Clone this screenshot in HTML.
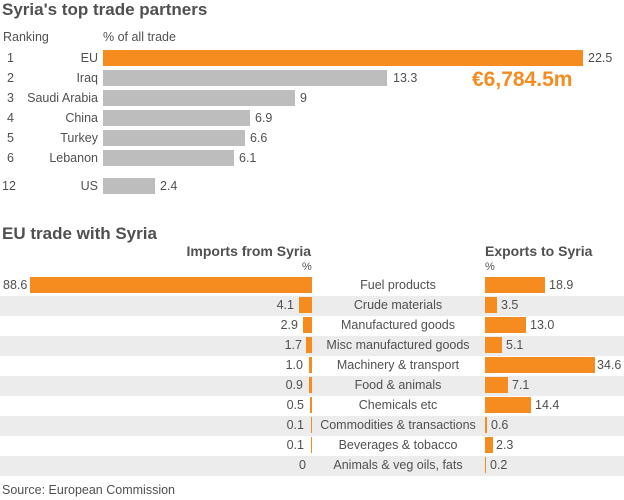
<!DOCTYPE html>
<html><head><meta charset="utf-8"><style>
body{margin:0;width:624px;height:500px;background:#fff;position:relative;overflow:hidden;font-family:"Liberation Sans",Arial,sans-serif;color:#505050;}
div{position:absolute;white-space:nowrap;}
.t{font-size:12.5px;line-height:16px;}
.b{background:#bdbdbd;height:16px;}
.o{background:#f68b1f;}
.h{font-weight:bold;}
.s{background:#ececec;left:0;width:624px;height:20px;}
</style></head><body>
<div class="h" style="left:2px;top:0px;font-size:17px;line-height:20px">Syria's top trade partners</div>
<div class="t" style="left:3px;top:29px">Ranking</div>
<div class="t" style="left:103px;top:29px">% of all trade</div>

<div class="t" style="left:7px;top:50px">1</div><div class="t" style="right:526px;top:50px">EU</div><div class="b o" style="left:103px;top:50px;width:480px"></div><div class="t" style="left:588px;top:50px">22.5</div>
<div class="t" style="left:7px;top:70px">2</div><div class="t" style="right:526px;top:70px">Iraq</div><div class="b" style="left:103px;top:70px;width:284px"></div><div class="t" style="left:393px;top:70px">13.3</div>
<div class="t" style="left:7px;top:90px">3</div><div class="t" style="right:526px;top:90px">Saudi Arabia</div><div class="b" style="left:103px;top:90px;width:192px"></div><div class="t" style="left:300px;top:90px">9</div>
<div class="t" style="left:7px;top:110px">4</div><div class="t" style="right:526px;top:110px">China</div><div class="b" style="left:103px;top:110px;width:147px"></div><div class="t" style="left:255px;top:110px">6.9</div>
<div class="t" style="left:7px;top:130px">5</div><div class="t" style="right:526px;top:130px">Turkey</div><div class="b" style="left:103px;top:130px;width:142px"></div><div class="t" style="left:250px;top:130px">6.6</div>
<div class="t" style="left:7px;top:150px">6</div><div class="t" style="right:526px;top:150px">Lebanon</div><div class="b" style="left:103px;top:150px;width:131px"></div><div class="t" style="left:239px;top:150px">6.1</div>
<div class="t" style="left:2px;top:178px">12</div><div class="t" style="right:526px;top:178px">US</div><div class="b" style="left:103px;top:178px;width:52px"></div><div class="t" style="left:160px;top:178px">2.4</div>
<div class="h" style="left:472px;top:68px;font-size:21px;line-height:24px;color:#f68b1f">€6,784.5m</div>

<div class="h" style="left:2px;top:224px;font-size:17px;line-height:20px">EU trade with Syria</div>
<div class="h" style="right:313px;top:242px;font-size:14px;line-height:18px">Imports from Syria</div>
<div class="h" style="left:485px;top:242px;font-size:14px;line-height:18px">Exports to Syria</div>
<div class="t" style="left:302px;top:259px;font-size:11px">%</div>
<div class="t" style="left:485px;top:259px;font-size:11px">%</div>

<div class="s" style="top:296px"></div><div class="s" style="top:336px"></div><div class="s" style="top:376px"></div><div class="s" style="top:416px"></div><div class="s" style="top:456px"></div>

<div class="t" style="left:3px;top:277px">88.6</div><div class="b o" style="left:30px;top:277px;width:282px"></div><div class="t" style="left:298px;width:200px;text-align:center;top:277px">Fuel products</div><div class="b o" style="left:485px;top:277px;width:60px"></div><div class="t" style="left:549px;top:277px">18.9</div>
<div class="t" style="right:330px;top:297px">4.1</div><div class="b o" style="left:299px;top:297px;width:13px"></div><div class="t" style="left:298px;width:200px;text-align:center;top:297px">Crude materials</div><div class="b o" style="left:485px;top:297px;width:12px"></div><div class="t" style="left:501px;top:297px">3.5</div>
<div class="t" style="right:326px;top:317px">2.9</div><div class="b o" style="left:303px;top:317px;width:9px"></div><div class="t" style="left:298px;width:200px;text-align:center;top:317px">Manufactured goods</div><div class="b o" style="left:485px;top:317px;width:41px"></div><div class="t" style="left:530px;top:317px">13.0</div>
<div class="t" style="right:322px;top:337px">1.7</div><div class="b o" style="left:306px;top:337px;width:6px"></div><div class="t" style="left:298px;width:200px;text-align:center;top:337px">Misc manufactured goods</div><div class="b o" style="left:485px;top:337px;width:17px"></div><div class="t" style="left:506px;top:337px">5.1</div>
<div class="t" style="right:321px;top:357px">1.0</div><div class="b o" style="left:309px;top:357px;width:3px"></div><div class="t" style="left:298px;width:200px;text-align:center;top:357px">Machinery &amp; transport</div><div class="b o" style="left:485px;top:357px;width:110px"></div><div class="t" style="left:597px;top:357px">34.6</div>
<div class="t" style="right:321px;top:377px">0.9</div><div class="b o" style="left:309px;top:377px;width:3px"></div><div class="t" style="left:298px;width:200px;text-align:center;top:377px">Food &amp; animals</div><div class="b o" style="left:485px;top:377px;width:23px"></div><div class="t" style="left:512px;top:377px">7.1</div>
<div class="t" style="right:320px;top:397px">0.5</div><div class="b o" style="left:310px;top:397px;width:2px"></div><div class="t" style="left:298px;width:200px;text-align:center;top:397px">Chemicals etc</div><div class="b o" style="left:485px;top:397px;width:46px"></div><div class="t" style="left:535px;top:397px">14.4</div>
<div class="t" style="right:320px;top:417px">0.1</div><div class="b o" style="left:311px;top:417px;width:1px"></div><div class="t" style="left:298px;width:200px;text-align:center;top:417px">Commodities &amp; transactions</div><div class="b o" style="left:485px;top:417px;width:2px"></div><div class="t" style="left:491px;top:417px">0.6</div>
<div class="t" style="right:320px;top:437px">0.1</div><div class="b o" style="left:311px;top:437px;width:1px"></div><div class="t" style="left:298px;width:200px;text-align:center;top:437px">Beverages &amp; tobacco</div><div class="b o" style="left:485px;top:437px;width:8px"></div><div class="t" style="left:496px;top:437px">2.3</div>
<div class="t" style="right:318px;top:457px">0</div><div class="t" style="left:298px;width:200px;text-align:center;top:457px">Animals &amp; veg oils, fats</div><div class="b o" style="left:485px;top:457px;width:1px"></div><div class="t" style="left:490px;top:457px">0.2</div>

<div class="t" style="left:2px;top:482px">Source: European Commission</div>
</body></html>
